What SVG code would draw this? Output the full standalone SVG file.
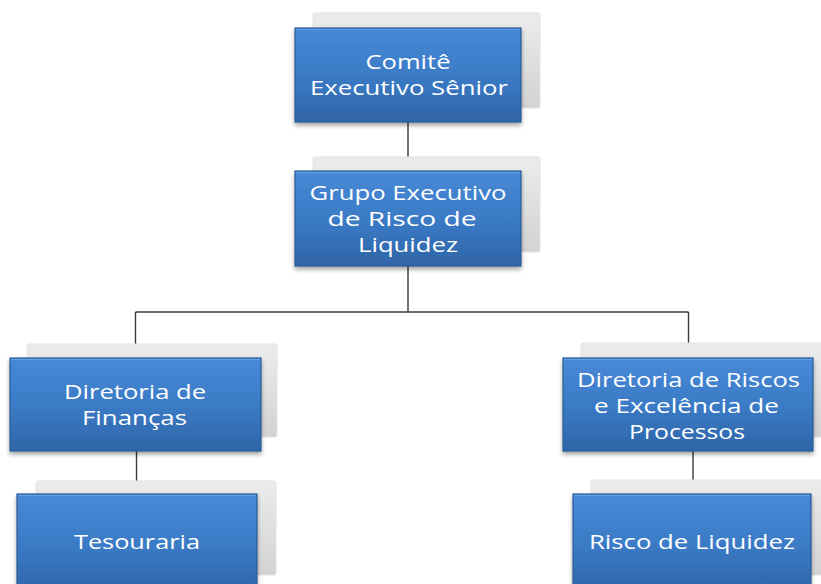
<svg xmlns="http://www.w3.org/2000/svg" width="821" height="584" viewBox="0 0 821 584">
<defs>
<linearGradient id="blue" x1="0" y1="0" x2="0" y2="1">
<stop offset="0" stop-color="#4889d6"/>
<stop offset="0.5" stop-color="#3b7bc6"/>
<stop offset="1" stop-color="#2f65a8"/>
</linearGradient>
<linearGradient id="gray" x1="0" y1="0" x2="0" y2="1">
<stop offset="0" stop-color="#ececec"/>
<stop offset="1" stop-color="#d2d2d2"/>
</linearGradient>
<filter id="sh" x="-10%" y="-10%" width="125%" height="130%">
<feGaussianBlur in="SourceAlpha" stdDeviation="2"/>
<feOffset dx="0" dy="3" result="b"/>
<feComponentTransfer><feFuncA type="linear" slope="0.35"/></feComponentTransfer>
<feMerge><feMergeNode/><feMergeNode in="SourceGraphic"/></feMerge>
</filter>
</defs>
<style>
.bg{fill:url(#gray);stroke:#e2e2e2;stroke-width:1}
.box{fill:url(#blue);stroke:#2b5c96;stroke-width:1.2;filter:url(#sh)}
.hl{fill:none;stroke:#6aa6e8;stroke-width:1.2;opacity:0.8}
.t{font-family:"Open Sans","Liberation Sans",sans-serif;font-size:20px;fill:#ffffff;text-anchor:middle}
.c{stroke:#3a3a3a;stroke-width:1.4;fill:none}
</style>
<g id="connectors">
<line class="c" x1="408" y1="122" x2="408" y2="171"/>
<line class="c" x1="408" y1="266" x2="408" y2="312"/>
<line class="c" x1="135.5" y1="312" x2="688.5" y2="312"/>
<line class="c" x1="135.5" y1="312" x2="135.5" y2="358"/>
<line class="c" x1="688.5" y1="312" x2="688.5" y2="358"/>
<line class="c" x1="136.5" y1="451" x2="136.5" y2="494"/>
<line class="c" x1="693" y1="451" x2="693" y2="494"/>
</g>
<g id="n1">
<rect class="bg" x="313" y="13" width="227" height="95" rx="2"/>
<rect class="box" x="295" y="28" width="226" height="94"/>
<path class="hl" d="M296 29.5H520"/>
<text class="t" x="408" y="69" textLength="85" lengthAdjust="spacingAndGlyphs">Comitê</text>
<text class="t" x="409" y="95" textLength="198" lengthAdjust="spacingAndGlyphs">Executivo Sênior</text>
</g>
<g id="n2">
<rect class="bg" x="313" y="157" width="227" height="95" rx="2"/>
<rect class="box" x="295" y="171" width="226" height="95"/>
<path class="hl" d="M296 172.5H520"/>
<text class="t" x="408" y="200" textLength="197" lengthAdjust="spacingAndGlyphs">Grupo Executivo</text>
<text class="t" x="402" y="226" textLength="149" lengthAdjust="spacingAndGlyphs">de Risco de</text>
<text class="t" x="408" y="252" textLength="100" lengthAdjust="spacingAndGlyphs">Liquidez</text>
</g>
<g id="n3">
<rect class="bg" x="27" y="344" width="250" height="93" rx="2"/>
<rect class="box" x="10" y="358" width="251" height="93"/>
<path class="hl" d="M11 359.5H260"/>
<text class="t" x="135" y="399" textLength="142" lengthAdjust="spacingAndGlyphs">Diretoria de</text>
<text class="t" x="134.5" y="425" textLength="105" lengthAdjust="spacingAndGlyphs">Finanças</text>
</g>
<g id="n4">
<rect class="bg" x="581" y="343" width="250" height="94" rx="2"/>
<rect class="box" x="563" y="358" width="250" height="93"/>
<path class="hl" d="M564 359.5H812"/>
<text class="t" x="688.5" y="387" textLength="223" lengthAdjust="spacingAndGlyphs">Diretoria de Riscos</text>
<text class="t" x="686.5" y="413" textLength="185" lengthAdjust="spacingAndGlyphs">e Excelência de</text>
<text class="t" x="687" y="439" textLength="116" lengthAdjust="spacingAndGlyphs">Processos</text>
</g>
<g id="n5">
<rect class="bg" x="36" y="481" width="240" height="94" rx="2"/>
<rect class="box" x="17" y="494" width="240" height="100"/>
<path class="hl" d="M18 495.5H256"/>
<text class="t" x="137" y="549" textLength="126" lengthAdjust="spacingAndGlyphs">Tesouraria</text>
</g>
<g id="n6">
<rect class="bg" x="591" y="480" width="240" height="95" rx="2"/>
<rect class="box" x="573" y="494" width="238" height="100"/>
<path class="hl" d="M574 495.5H810"/>
<text class="t" x="692" y="549" textLength="206" lengthAdjust="spacingAndGlyphs">Risco de Liquidez</text>
</g>
</svg>
